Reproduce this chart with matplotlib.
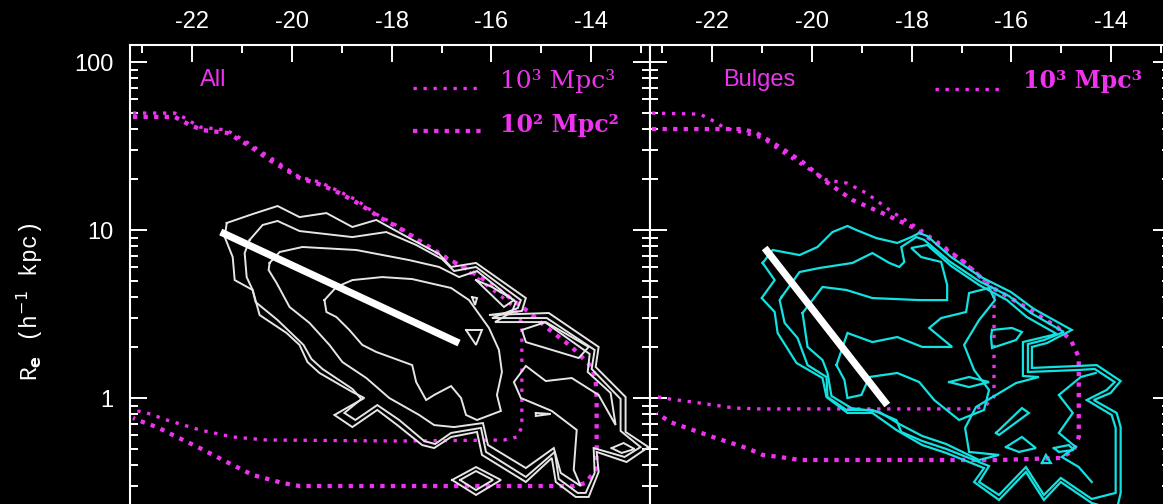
import numpy as np
import matplotlib
matplotlib.use("Agg")
import matplotlib.pyplot as plt
from matplotlib.ticker import MultipleLocator, LogLocator, NullFormatter, FixedLocator

plt.rcParams['font.family'] = ['Liberation Sans', 'DejaVu Sans']
plt.rcParams['axes.unicode_minus'] = False

# ---- data: (absolute magnitude, log10 Re) ----
# left panel ("All") contours, outermost first
all_c1 = [(-21.31, 1.042), (-20.79, 1.095), (-20.29, 1.143), (-19.85, 1.077), (-19.31, 1.101),
          (-18.79, 1.018), (-18.31, 1.060), (-17.65, 0.952), (-17.05, 0.857), (-16.81, 0.780),
          (-16.31, 0.804), (-15.31, 0.595), (-15.39, 0.518), (-16.05, 0.494), (-14.85, 0.506),
          (-13.85, 0.304), (-13.91, 0.185), (-13.31, 0.006), (-13.31, -0.202), (-12.85, -0.292),
          (-13.29, -0.381), (-13.89, -0.321), (-13.85, -0.440), (-14.05, -0.589), (-14.31, -0.589),
          (-14.71, -0.500), (-14.79, -0.357), (-15.31, -0.500), (-16.19, -0.339), (-16.29, -0.202),
          (-16.81, -0.232), (-17.15, -0.298), (-17.39, -0.280), (-17.89, -0.161), (-18.29, -0.071),
          (-18.79, -0.173), (-19.15, -0.101), (-18.55, 0.000), (-18.79, 0.036), (-19.45, 0.149),
          (-19.69, 0.214), (-19.85, 0.316), (-20.11, 0.387), (-20.65, 0.494), (-20.79, 0.643),
          (-21.15, 0.702), (-21.19, 0.839), (-21.35, 0.958)]
all_c2 = [(-20.85, 0.941), (-20.59, 1.030), (-20.29, 1.054), (-19.85, 0.994), (-18.79, 0.958),
          (-18.11, 0.988), (-17.51, 0.911), (-16.99, 0.827), (-16.75, 0.756), (-16.31, 0.780),
          (-15.41, 0.583), (-15.47, 0.536), (-15.99, 0.476), (-14.89, 0.476), (-13.93, 0.286),
          (-13.99, 0.173), (-13.41, -0.006), (-13.41, -0.196), (-13.01, -0.292), (-13.33, -0.351),
          (-13.95, -0.298), (-13.93, -0.446), (-14.11, -0.565), (-14.27, -0.565), (-14.65, -0.482),
          (-14.73, -0.321), (-15.31, -0.470), (-16.11, -0.321), (-16.21, -0.178), (-16.81, -0.208),
          (-17.13, -0.274), (-17.35, -0.256), (-17.85, -0.131), (-18.29, -0.042), (-18.73, -0.131),
          (-18.95, -0.089), (-18.61, -0.006), (-18.79, 0.054), (-19.39, 0.173), (-19.61, 0.232),
          (-19.77, 0.316), (-20.29, 0.464), (-20.73, 0.571), (-20.79, 0.643), (-20.91, 0.720),
          (-20.95, 0.863)]
all_c3 = [(-20.45, 0.804), (-20.25, 0.869), (-19.79, 0.899), (-18.71, 0.881), (-17.65, 0.821),
          (-17.05, 0.780), (-16.65, 0.720), (-16.29, 0.756), (-15.51, 0.571), (-15.59, 0.512),
          (-15.93, 0.452), (-14.93, 0.452), (-14.03, 0.262), (-14.07, 0.155), (-13.61, 0.030),
          (-13.51, -0.161), (-13.85, 0.018), (-14.39, 0.119), (-14.91, 0.101), (-15.31, 0.191),
          (-15.55, 0.095), (-15.41, 0.000), (-14.79, -0.077), (-14.29, -0.190), (-14.35, -0.428),
          (-14.21, -0.524), (-14.61, -0.446), (-14.75, -0.298), (-15.31, -0.417), (-16.07, -0.280),
          (-16.17, -0.149), (-16.75, -0.173), (-17.15, -0.161), (-17.45, -0.101), (-18.05, 0.000),
          (-18.51, 0.119), (-18.99, 0.214), (-19.25, 0.316), (-19.65, 0.447), (-20.05, 0.542),
          (-20.31, 0.685), (-20.47, 0.762)]
all_c4 = [(-19.35, 0.583), (-19.11, 0.661), (-18.79, 0.702), (-18.19, 0.720), (-17.59, 0.708),
          (-16.81, 0.655), (-16.45, 0.583), (-16.05, 0.417), (-15.85, 0.286), (-15.79, 0.155),
          (-15.89, 0.018), (-15.81, -0.077), (-16.29, -0.131), (-16.51, -0.101), (-16.61, 0.000),
          (-16.81, 0.071), (-17.15, 0.018), (-17.31, -0.012), (-17.51, 0.095), (-17.59, 0.196),
          (-18.31, 0.274), (-18.59, 0.316), (-18.85, 0.405), (-19.11, 0.482), (-19.31, 0.512)]
all_islands = [
    [(-16.31, 0.702), (-15.99, 0.661), (-15.55, 0.583), (-15.75, 0.542)],
    [(-16.39, 0.601), (-16.29, 0.595), (-16.33, 0.554)],
    [(-16.51, 0.405), (-16.19, 0.405), (-16.31, 0.316)],
    [(-15.39, 0.405), (-14.91, 0.452), (-14.05, 0.304), (-14.25, 0.238), (-15.31, 0.333)],
    [(-15.11, -0.089), (-14.81, -0.095), (-15.11, -0.107)],
    [(-16.79, -0.488), (-16.31, -0.411), (-15.81, -0.488), (-16.31, -0.577)],
    [(-16.63, -0.488), (-16.31, -0.435), (-15.97, -0.488), (-16.31, -0.548)],
    [(-13.59, -0.298), (-13.35, -0.268), (-13.13, -0.304), (-13.39, -0.327)],
]

# right panel ("Bulges") contours
blg_c1 = [(-20.99, 0.804), (-20.79, 0.881), (-20.25, 0.851), (-19.89, 0.899), (-19.59, 0.988),
          (-19.29, 1.024), (-19.11, 1.000), (-18.71, 0.952), (-18.29, 0.923), (-18.01, 0.958),
          (-17.85, 0.982), (-17.69, 0.964), (-17.21, 0.839), (-16.61, 0.720), (-16.01, 0.631),
          (-15.55, 0.530), (-14.79, 0.405), (-15.29, 0.327), (-15.59, 0.304), (-15.59, 0.179),
          (-14.65, 0.191), (-14.29, 0.196), (-13.81, 0.101), (-14.01, 0.030), (-14.35, -0.012),
          (-13.89, -0.089), (-13.81, -0.173), (-13.81, -0.565), (-13.89, -0.667), (-14.39, -0.625),
          (-15.01, -0.500), (-15.35, -0.607), (-15.71, -0.440), (-16.25, -0.607), (-16.75, -0.500),
          (-16.55, -0.417), (-17.31, -0.327), (-17.79, -0.280), (-18.31, -0.190), (-18.79, -0.089),
          (-19.29, -0.089), (-19.71, 0.006), (-19.79, 0.119), (-20.31, 0.208), (-20.69, 0.387),
          (-20.75, 0.512), (-21.01, 0.595), (-20.75, 0.702)]
blg_c2 = [(-20.61, 0.601), (-20.25, 0.750), (-19.85, 0.774), (-19.19, 0.804), (-18.79, 0.863),
          (-18.45, 0.804), (-18.25, 0.780), (-18.15, 0.810), (-18.21, 0.899), (-17.91, 0.958),
          (-17.75, 0.941), (-17.25, 0.815), (-16.65, 0.696), (-16.05, 0.607), (-15.61, 0.506),
          (-14.95, 0.393), (-15.35, 0.345), (-15.67, 0.321), (-15.67, 0.155), (-14.65, 0.167),
          (-14.33, 0.173), (-13.93, 0.095), (-14.09, 0.048), (-14.49, -0.012), (-13.99, -0.101),
          (-13.91, -0.178), (-13.91, -0.565), (-14.39, -0.601), (-15.01, -0.476), (-15.35, -0.577),
          (-15.71, -0.411), (-16.25, -0.577), (-16.65, -0.500), (-16.45, -0.405), (-17.31, -0.303),
          (-17.79, -0.256), (-18.21, -0.202), (-18.31, -0.131), (-18.79, -0.071), (-19.31, -0.071),
          (-19.69, 0.006), (-19.71, 0.125), (-20.09, 0.196), (-20.29, 0.357), (-20.55, 0.447),
          (-20.65, 0.583)]
blg_c3 = [(-20.19, 0.506), (-19.79, 0.661), (-19.31, 0.643), (-18.79, 0.595), (-17.85, 0.583),
          (-17.29, 0.583), (-17.29, 0.673), (-17.41, 0.810), (-17.81, 0.839), (-18.01, 0.893),
          (-17.69, 0.911), (-17.21, 0.786), (-16.65, 0.673), (-16.09, 0.583), (-15.69, 0.482),
          (-15.09, 0.381), (-15.77, 0.333), (-15.77, 0.131), (-15.45, 0.125), (-15.91, 0.089),
          (-16.71, -0.053), (-16.93, -0.178), (-16.85, -0.321), (-16.25, -0.339), (-16.65, -0.369),
          (-17.31, -0.274), (-17.79, -0.226), (-18.25, -0.155), (-18.65, -0.083), (-19.21, -0.060),
          (-19.61, 0.012), (-19.69, 0.149), (-19.79, 0.226), (-20.09, 0.304)]
blg_c3_right = [(-14.31, 0.149), (-14.61, 0.125), (-15.05, 0.018), (-14.77, -0.089), (-15.05, -0.208),
                (-14.71, -0.292), (-14.99, -0.351), (-14.65, -0.411), (-14.39, -0.500)]
blg_c4 = [(-19.51, 0.196), (-19.29, 0.387), (-18.79, 0.333), (-18.29, 0.363), (-17.79, 0.304),
          (-17.19, 0.304), (-17.65, 0.417), (-17.41, 0.476), (-16.91, 0.512), (-16.85, 0.625),
          (-16.45, 0.655), (-16.33, 0.583), (-16.65, 0.464), (-16.95, 0.316), (-16.75, 0.167),
          (-16.45, 0.048), (-16.55, -0.071), (-17.05, -0.131), (-17.55, -0.012), (-17.85, 0.095),
          (-18.29, 0.149), (-18.85, 0.125), (-19.01, 0.018), (-19.29, 0.000), (-19.35, 0.107)]
blg_islands = [
    [(-17.25, 0.095), (-16.85, 0.125), (-16.45, 0.095), (-16.85, 0.065)],
    [(-16.39, 0.405), (-15.99, 0.417), (-15.79, 0.393), (-15.91, 0.345), (-16.39, 0.298), (-16.41, 0.363)],
    [(-16.31, -0.208), (-15.79, -0.060), (-15.65, -0.089), (-16.25, -0.220)],
    [(-16.11, -0.292), (-15.79, -0.232), (-15.51, -0.298), (-15.85, -0.321)],
    [(-15.15, -0.298), (-14.85, -0.280), (-14.75, -0.309), (-15.05, -0.321)],
    [(-15.39, -0.387), (-15.31, -0.339), (-15.21, -0.387)],
]

# selection limits (dotted magenta)
all_lim_1e3 = [(-23.19, 1.696), (-22.35, 1.696), (-22.15, 1.667), (-21.85, 1.613), (-21.31, 1.595),
               (-20.91, 1.524), (-20.51, 1.446), (-19.85, 1.315), (-19.45, 1.286), (-19.11, 1.238),
               (-18.71, 1.179), (-18.31, 1.095), (-17.85, 1.018), (-17.45, 0.941), (-16.91, 0.839),
               (-16.55, 0.774), (-16.31, 0.720), (-16.05, 0.661), (-15.81, 0.607), (-15.55, 0.542),
               (-15.39, 0.447), (-15.39, -0.173), (-15.49, -0.232), (-15.75, -0.250), (-17.85, -0.256),
               (-20.51, -0.250), (-21.19, -0.232), (-21.85, -0.190), (-22.51, -0.131), (-22.91, -0.089),
               (-23.19, -0.071)]
all_lim_1e2 = [(-23.19, 1.673), (-22.35, 1.673), (-22.05, 1.625), (-21.79, 1.595), (-21.29, 1.577),
               (-20.85, 1.500), (-20.45, 1.417), (-19.85, 1.310), (-19.41, 1.268), (-19.05, 1.220),
               (-18.65, 1.155), (-18.25, 1.077), (-17.85, 1.012), (-17.45, 0.935), (-16.91, 0.833),
               (-16.45, 0.762), (-16.05, 0.685), (-15.65, 0.601), (-15.25, 0.512), (-14.91, 0.423),
               (-14.39, 0.304), (-13.99, 0.185), (-13.91, 0.107), (-13.89, -0.012), (-13.89, -0.327),
               (-13.91, -0.428), (-14.11, -0.506), (-14.35, -0.524), (-19.85, -0.524), (-20.19, -0.506),
               (-20.79, -0.458), (-21.31, -0.381), (-21.85, -0.298), (-22.31, -0.232), (-22.71, -0.173),
               (-22.99, -0.143), (-23.19, -0.119)]
blg_lim_a = [(-23.21, 1.696), (-22.25, 1.690), (-22.01, 1.655), (-21.75, 1.607), (-21.35, 1.577),
             (-20.99, 1.548), (-20.65, 1.476), (-20.19, 1.387), (-19.71, 1.298), (-19.31, 1.280),
             (-18.91, 1.220), (-18.39, 1.107), (-17.91, 1.018), (-17.45, 0.923), (-17.05, 0.833),
             (-16.65, 0.732), (-16.35, 0.643), (-16.35, 0.006), (-16.55, -0.053), (-16.85, -0.065),
             (-21.05, -0.065), (-21.55, -0.060), (-22.25, -0.030), (-22.85, -0.006), (-23.21, 0.012)]
blg_lim_b = [(-23.21, 1.601), (-21.39, 1.601), (-21.11, 1.577), (-20.65, 1.494), (-20.19, 1.405),
             (-19.71, 1.286), (-19.19, 1.179), (-18.59, 1.101), (-17.99, 1.018), (-17.45, 0.911),
             (-16.95, 0.810), (-16.41, 0.661), (-15.95, 0.583), (-15.41, 0.482), (-15.09, 0.423),
             (-14.81, 0.345), (-14.65, 0.244), (-14.65, -0.232), (-14.75, -0.309), (-15.01, -0.357),
             (-16.25, -0.369), (-20.25, -0.369), (-20.65, -0.351), (-20.99, -0.339), (-21.31, -0.298),
             (-21.99, -0.232), (-22.51, -0.178), (-22.85, -0.143), (-23.11, -0.089)]

# size-luminosity fits (thick white)
all_fit = [(-21.43, 0.988), (-16.65, 0.327)]
blg_fit = [(-20.95, 0.893), (-18.49, -0.042)]

x_lim = (-23.25, -12.82)
y_lim = (0.1, 126.3)
x_ticks = [-22, -20, -18, -16, -14]
y_ticks = [1, 10, 100]

MAG = '#ee33ee'
CYAN = '#12e2e2'
GREY = '#e6e6e6'
FINE = (0, (1, 2.0))
BIG = (0, (1, 1.45))
FINE_LW = 2.4
BIG_LW = 3.1


def draw(ax, pts, color, lw, closed=True, **kw):
    m, l = np.array(pts).T
    if closed:
        m = np.append(m, m[0])
        l = np.append(l, l[0])
    ax.plot(m, 10 ** l, color=color, lw=lw, solid_joinstyle='miter', **kw)


def style(ax, ylabels):
    ax.set_facecolor('black')
    ax.set_yscale('log')
    ax.set_xlim(*x_lim)
    ax.set_ylim(*y_lim)
    ax.xaxis.set_major_locator(FixedLocator(x_ticks))
    ax.xaxis.set_minor_locator(MultipleLocator(1))
    ax.yaxis.set_major_locator(FixedLocator(y_ticks))
    ax.yaxis.set_minor_locator(LogLocator(base=10, subs=np.arange(2, 10)))
    ax.yaxis.set_minor_formatter(NullFormatter())
    ax.set_yticklabels([str(v) for v in y_ticks] if ylabels else [])
    ax.set_xticklabels([str(v) for v in x_ticks])
    for s in ax.spines.values():
        s.set_color('white')
        s.set_linewidth(1.5)
    ax.tick_params(which='both', direction='in', colors='white', top=True, bottom=False,
                   left=True, right=True, labeltop=True, labelbottom=False,
                   labelleft=ylabels, labelright=False, width=1.4)
    ax.tick_params(which='major', length=12.5, labelsize=17)
    ax.tick_params(which='minor', length=6)
    ax.tick_params(axis='x', which='major', pad=9)
    ax.tick_params(axis='y', which='major', pad=12)


fig = plt.figure(figsize=(11.63, 5.04), dpi=100, facecolor='black')
ax1 = fig.add_axes([130 / 1163, -0.123, 520 / 1163, 1.0337])
ax2 = fig.add_axes([650 / 1163, -0.123, 520 / 1163, 1.0337])
style(ax1, True)
style(ax2, False)

# left panel
draw(ax1, all_lim_1e3, MAG, FINE_LW, closed=False, linestyle=FINE)
draw(ax1, all_lim_1e2, MAG, BIG_LW, closed=False, linestyle=BIG)
for c in (all_c1, all_c2, all_c3, all_c4):
    draw(ax1, c, GREY, 1.4)
for c in all_islands:
    draw(ax1, c, GREY, 1.4)
draw(ax1, all_fit, 'white', 5.2, closed=False, solid_capstyle='butt')

# right panel
draw(ax2, blg_lim_a, MAG, FINE_LW, closed=False, linestyle=FINE)
draw(ax2, blg_lim_b, MAG, BIG_LW, closed=False, linestyle=BIG)
for c in (blg_c1, blg_c2, blg_c3, blg_c4):
    draw(ax2, c, CYAN, 1.6)
draw(ax2, blg_c3_right, CYAN, 1.6, closed=False)
for c in blg_islands:
    draw(ax2, c, CYAN, 1.6)
draw(ax2, blg_fit, 'white', 5.2, closed=False, solid_capstyle='butt')

# labels and key
ax1.text(0.135, 0.933, 'All', color=MAG, fontsize=17, transform=ax1.transAxes, va='center')
ax2.text(0.140, 0.933, 'Bulges', color=MAG, fontsize=17, transform=ax2.transAxes, va='center')
serif = ['DejaVu Serif']
ax1.plot([0.544, 0.677], [0.917, 0.917], color=MAG, lw=FINE_LW, ls=FINE, transform=ax1.transAxes)
ax1.text(0.712, 0.931, '10³ Mpc³', color=MAG, fontsize=18, family=serif,
         transform=ax1.transAxes, va='center')
ax1.plot([0.544, 0.677], [0.835, 0.835], color=MAG, lw=BIG_LW, ls=BIG, transform=ax1.transAxes)
ax1.text(0.712, 0.846, '10² Mpc²', color=MAG, fontsize=17, family=serif, weight='bold',
         transform=ax1.transAxes, va='center')
ax2.plot([0.548, 0.679], [0.915, 0.915], color=MAG, lw=FINE_LW, ls=FINE, transform=ax2.transAxes)
ax2.text(0.717, 0.931, '10³ Mpc³', color=MAG, fontsize=17, family=serif, weight='bold',
         transform=ax2.transAxes, va='center')

fig.text(0.026, 0.40, r'R$_{\mathbf{e}}$ (h$^{-1}$ kpc)', color='white', rotation=90,
         fontsize=16.5, family=['Liberation Mono', 'DejaVu Sans Mono'], ha='center', va='center')

fig.savefig('out.png', dpi=100, facecolor='black')
